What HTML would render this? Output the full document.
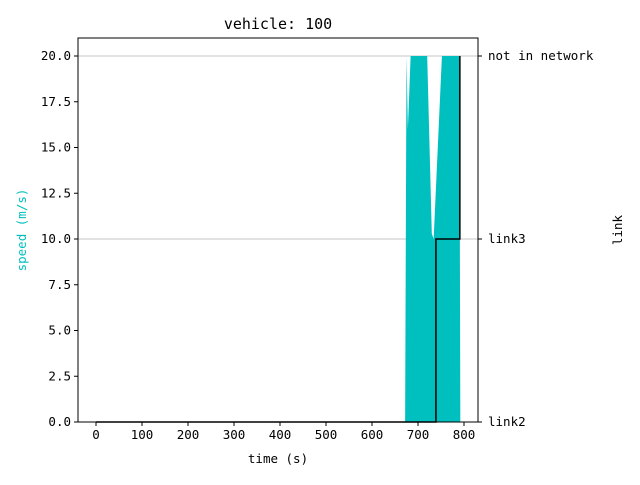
<!DOCTYPE html>
<html><head><meta charset="utf-8"><style>
body{margin:0;background:#fff}
svg text{font-family:"DejaVu Sans Mono","Liberation Mono",monospace;font-size:12.5px}
</style></head><body>
<svg width="640" height="480" xmlns="http://www.w3.org/2000/svg">
<g id="plot"></g>
</svg>
<script>
const speedTimes=[0,672,675,678,684,720,730,734,752,790,792];
const speedVals=[0,0,20,16,20,20,10.3,10,20,20,0];
const linkTimes=[0,739,791];
const linkVals=[0,1,2];
const linkNames=["link2","link3","not in network"];
const xTicks=[0,100,200,300,400,500,600,700,800];
const yTicks=[0,2.5,5,7.5,10,12.5,15,17.5,20];
const NS="http://www.w3.org/2000/svg";
const L=78,R=478,T=38,B=422;
const xs=t=>96+t*0.46;
const ys=v=>422-v*18.3;
const ls=v=>ys(v*10);
const g=document.getElementById('plot');
function mk(tag,attrs,parent){const e=document.createElementNS(NS,tag);for(const k in attrs)e.setAttribute(k,attrs[k]);(parent||g).appendChild(e);return e;}
for(const v of [0,1,2]){const e=mk('line',{x1:L,x2:R,y1:ls(v),y2:ls(v),stroke:'#b0b0b0','stroke-width':0.8});

}
let d='M'+xs(speedTimes[0])+','+ys(0);
speedTimes.forEach((t,i)=>{d+=' L'+xs(t)+','+ys(speedVals[i]);});
d+=' L'+xs(speedTimes[speedTimes.length-1])+','+ys(0)+'Z';
const f=mk('path',{d:d,fill:'#00bfbf',stroke:'none'});


let p='M'+xs(linkTimes[0])+','+ls(linkVals[0]);
for(let i=1;i<linkTimes.length;i++){p+=' L'+xs(linkTimes[i])+','+ls(linkVals[i-1])+' L'+xs(linkTimes[i])+','+ls(linkVals[i]);}
const ln=mk('path',{d:p,fill:'none',stroke:'#000','stroke-width':1.5});


const fr=mk('rect',{x:L,y:T,width:R-L,height:B-T,fill:'none',stroke:'#000','stroke-width':1});


xTicks.forEach(t=>{const x=xs(t);mk('line',{x1:x,x2:x,y1:B,y2:B+4,stroke:'#000'});
const e=mk('text',{x:x,y:B+17,'text-anchor':'middle'});e.textContent=t;

});
yTicks.forEach(v=>{const y=ys(v);mk('line',{x1:L,x2:L-4,y1:y,y2:y,stroke:'#000'});
const e=mk('text',{x:L-7,y:y+4,'text-anchor':'end'});e.textContent=v.toFixed(1);

});
linkNames.forEach((n,i)=>{const y=ls(i);mk('line',{x1:R,x2:R+4,y1:y,y2:y,stroke:'#000'});
const e=mk('text',{x:R+10,y:y+4});e.textContent=n;

});
let e=mk('text',{x:278,y:29,'text-anchor':'middle',style:'font-size:15px'});e.textContent='vehicle: 100';


e=mk('text',{x:278,y:463,'text-anchor':'middle'});e.textContent='time (s)';


e=mk('text',{x:26,y:230,'text-anchor':'middle',fill:'#00bfbf',transform:'rotate(-90 26 230)'});e.textContent='speed (m/s)';


e=mk('text',{x:622,y:230,'text-anchor':'middle',transform:'rotate(-90 622 230)'});e.textContent='link';


</script>
</body></html>
